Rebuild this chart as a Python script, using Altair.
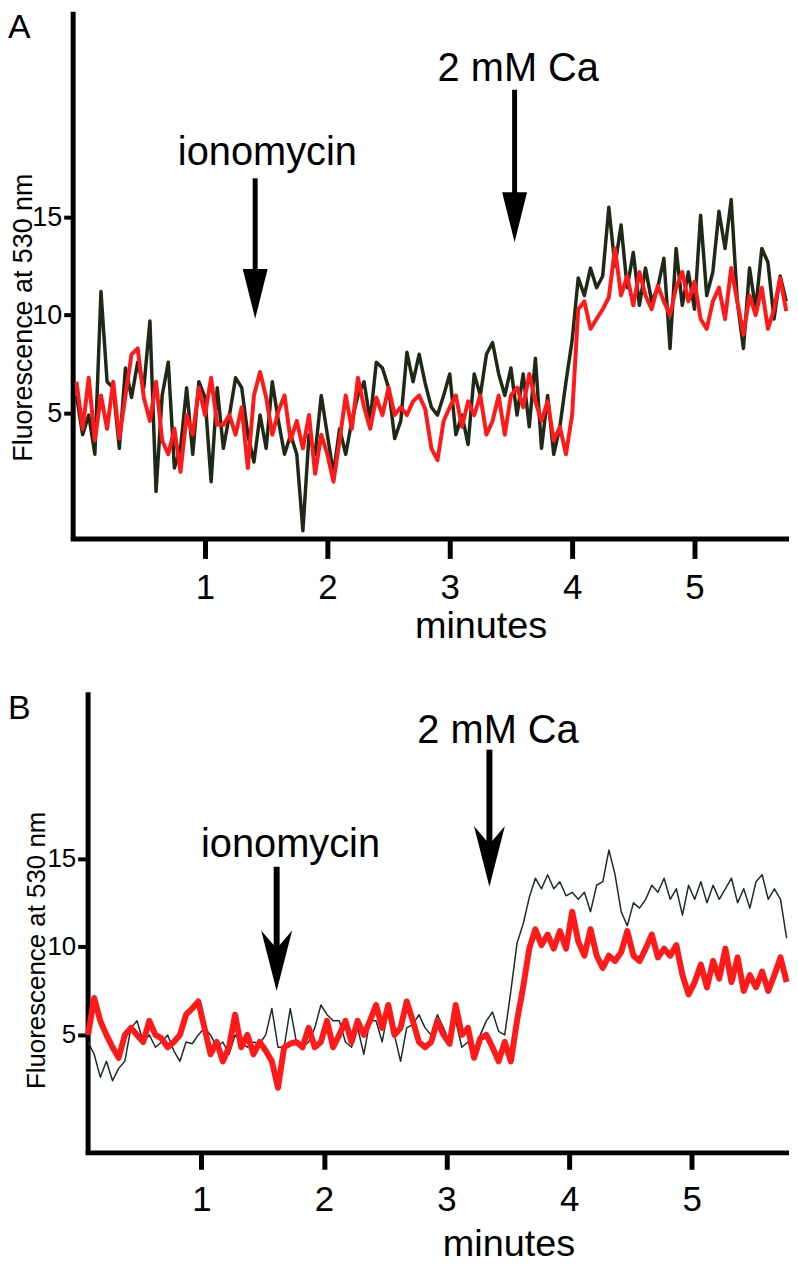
import altair as alt
import pandas as pd

FONT = "Liberation Sans"
RED = "#ff1a1a"

# ---------------- Panel A traces (minutes sampled every 0.05 from -0.05) ----------------
A_T0 = -0.05
A_DT = 0.05
a_red = [
    6.6, 4.2, 6.8, 3.6, 5.9, 4.2, 6.6, 3.7, 5.9, 8.0,
    8.3, 5.8, 4.6, 6.6, 3.6, 2.9, 4.2, 2.0, 4.9, 3.9,
    6.3, 4.9, 6.8, 4.4, 4.4, 4.9, 3.9, 5.3, 2.2, 5.9,
    7.1, 5.8, 3.9, 5.1, 5.9, 3.6, 4.6, 3.2, 4.9, 1.9,
    3.9, 2.9, 1.5, 3.6, 5.9, 4.2, 6.8, 5.3, 4.2, 5.8,
    4.9, 6.3, 4.9, 5.3, 4.9, 5.6, 5.9, 5.2,
    3.2, 2.6, 4.6, 5.3, 5.9, 4.3, 5.6, 4.9, 5.9, 3.9,
    4.6, 5.9, 3.9, 5.9, 6.3, 5.3, 7.0, 5.6, 4.6, 5.6,
    3.6, 4.3, 2.9, 4.9,
    10.3, 10.7, 9.3, 9.8, 10.3, 10.9, 13.4, 11.0, 12.0, 10.5,
    12.2, 11.0, 10.3, 11.5, 10.7, 10.0, 11.4, 12.2, 10.7, 11.7,
    9.8, 9.3, 10.7, 11.4, 9.8, 12.4, 10.7, 9.0, 11.0, 10.0,
    11.4, 9.3, 10.3, 11.9, 10.2,
]
a_black = [
    5.9, 3.9, 4.9, 2.9, 11.2, 6.6, 6.3, 3.2, 7.3, 5.8,
    7.6, 6.3, 9.7, 1.0, 5.9, 7.6, 2.2, 3.2, 6.3, 2.9,
    6.6, 5.8, 1.5, 6.3, 3.2, 4.9, 6.8, 6.3, 3.9, 2.5,
    4.9, 3.2, 6.6, 4.6, 2.9, 3.9, 2.9, -1.0, 3.9, 2.9,
    5.9, 3.9, 1.9, 4.2, 2.9, 4.6, 5.9, 6.6, 4.6, 7.6,
    7.3, 6.3, 3.7, 4.6, 8.1, 6.6, 8.0, 6.5,
    5.3, 4.9, 5.9, 7.0, 3.9, 4.9, 3.4, 7.0, 5.9, 8.0,
    8.6, 7.0, 5.9, 7.3, 4.9, 7.0, 4.3, 7.8, 3.2, 5.9,
    2.9, 4.3, 6.6, 8.7,
    11.9, 11.0, 12.4, 11.4, 12.0, 15.5, 12.5, 14.6, 11.4, 13.2,
    10.5, 12.4, 10.7, 11.4, 12.9, 8.3, 13.4, 10.5, 12.2, 10.3,
    15.1, 11.0, 12.2, 15.3, 13.4, 15.9, 10.7, 8.3, 12.4, 10.3,
    13.4, 12.7, 9.8, 12.0, 10.7,
]

# ---------------- Panel B traces (minutes sampled every 0.05 from 0.075) ----------------
B_T0 = 0.075
B_DT = 0.05
b_red = [
    5.0, 7.1, 5.8, 5.0, 4.3, 3.7, 5.0, 5.4, 5.0, 4.6,
    5.8, 5.0, 4.8, 4.3, 4.6, 5.0, 6.15, 6.5, 6.9, 5.4,
    3.9, 4.6, 3.5, 4.3, 6.15, 4.3, 5.0, 3.9, 4.6, 4.1,
    3.5, 2.0, 4.3, 4.5, 4.6, 4.3, 5.4, 4.3, 4.6, 5.8,
    4.3, 5.0, 5.8, 4.6, 5.8, 5.0, 5.8, 6.7, 5.4, 6.7,
    5.0, 5.4, 6.9, 5.8, 4.6, 4.3,
    4.6, 5.8, 5.0, 4.5, 6.7, 5.0, 5.4, 3.7, 4.8, 5.0,
    4.3, 3.5, 4.6, 3.5, 5.8, 7.7, 9.9, 11.0, 10.1, 10.7,
    9.9, 10.9, 9.9, 12.0, 10.3, 9.5, 11.0, 9.5, 8.8, 9.5,
    9.2, 9.7, 10.9, 9.5, 9.2, 9.9, 10.7, 9.4, 9.9, 9.5,
    10.1, 8.4, 7.3, 8.0, 9.0, 7.7, 9.2, 8.2, 9.9, 8.0,
    9.4, 7.5, 8.4, 7.7, 8.6, 7.5, 8.4, 9.4, 8.0,
]
b_black = [
    4.6, 3.9, 2.6, 3.5, 2.4, 3.1, 3.5, 5.4, 5.8, 4.6,
    5.0, 4.3, 4.6, 5.0, 4.1, 3.5, 4.6, 4.5, 5.0, 5.4,
    5.0, 4.3, 4.6, 3.9, 5.0, 4.6, 4.3, 4.6, 4.5, 5.0,
    6.5, 4.3, 4.3, 6.5, 4.6, 4.3, 4.6, 5.4, 6.7, 6.15,
    5.8, 5.8, 4.6, 4.3, 5.4, 3.9, 5.8, 5.8, 4.6, 6.5,
    5.0, 3.5, 5.4, 5.6, 6.15, 5.4,
    5.0, 6.15, 5.4, 4.6, 5.8, 4.3, 4.6, 3.9, 5.0, 5.8,
    6.3, 5.2, 5.0, 7.5, 10.2, 11.3, 12.8, 13.9, 13.3, 14.1,
    13.3, 13.7, 12.9, 13.1, 12.7, 13.1, 12.0, 13.5, 13.7, 15.5,
    14.1, 12.0, 11.2, 12.5, 12.2, 12.7, 13.5, 13.1, 13.9, 12.7,
    13.3, 11.8, 13.5, 12.7, 13.7, 12.5, 13.5, 12.7, 13.3, 13.9,
    12.5, 13.3, 12.2, 13.7, 14.1, 12.7, 13.3, 12.7, 10.5,
]

# ---------------- Annotations (arrows and labels) ----------------
ev_label = ["ionomycin", "2 mM Ca"]
a_ev_t = [1.41, 3.53]
a_ev_top = [16.98, 21.5]
a_ev_end = [11.09, 15.0]
a_ev_tip = [9.82, 13.73]
a_txt_t = [1.51, 3.56]
a_txt_y = [17.64, 21.95]

b_ev_t = [1.614, 3.35]
b_ev_top = [14.55, 21.2]
b_ev_end = [9.18, 15.11]
b_ev_tip = [7.49, 13.42]
b_txt_t = [1.727, 3.42]
b_txt_y = [15.1, 21.6]

x_ticks = [1, 2, 3, 4, 5]
y_ticks = [5, 10, 15]


def trace_df(t0, dt, vals):
    return pd.DataFrame({"t": [round(t0 + dt * i, 4) for i in range(len(vals))], "v": vals})


def ev_df(t, top, end, tip, tx, ty):
    return pd.DataFrame({"label": ev_label, "t": t, "top": top, "end": end,
                         "tip": tip, "tx": tx, "ty": ty})


def x_axis(title_x, title_y, tick_size, label_pad):
    return alt.Axis(values=x_ticks, format="d", title="minutes", grid=False,
                    domainColor="black", domainWidth=5, domainCap="square",
                    tickColor="black", tickWidth=5, tickSize=tick_size,
                    labelFont=FONT, labelFontSize=35, labelColor="black",
                    labelPadding=label_pad, labelFlush=False,
                    titleFont=FONT, titleFontSize=38, titleFontWeight="normal",
                    titleColor="black", titleX=title_x, titleY=title_y,
                    titleBaseline="alphabetic", titleAlign="center")


def y_axis(offset, tick_size, label_pad, label_size, title_size, title_x, title_y):
    return alt.Axis(values=y_ticks, format="d", title="Fluorescence at 530 nm",
                    grid=False, offset=offset,
                    domainColor="black", domainWidth=5,
                    tickColor="black", tickWidth=4, tickSize=tick_size,
                    labelFont=FONT, labelFontSize=label_size, labelColor="black",
                    labelPadding=label_pad,
                    titleFont=FONT, titleFontSize=title_size, titleFontWeight="normal",
                    titleColor="black", titleAngle=270, titleBaseline="bottom",
                    titleX=title_x, titleY=title_y, titleAlign="center")


def panel(letter, red, black, t0, dt, ev, xscale, yscale, xaxis, yaxis, height,
          red_w, black_w, black_col, head_path, head_size, shaft_w):
    def X(f):
        return alt.X(f"{f}:Q", scale=xscale, axis=xaxis)

    def Y(f):
        return alt.Y(f"{f}:Q", scale=yscale, axis=yaxis)

    black_line = alt.Chart(trace_df(t0, dt, black)).mark_line(
        color=black_col, strokeWidth=black_w, strokeJoin="round"
    ).encode(x=X("t"), y=Y("v"))
    red_line = alt.Chart(trace_df(t0, dt, red)).mark_line(
        color=RED, strokeWidth=red_w, strokeJoin="round"
    ).encode(x=X("t"), y=Y("v"))
    shafts = alt.Chart(ev).mark_rule(color="black", strokeWidth=shaft_w).encode(
        x=X("t"), y=Y("top"), y2="end:Q")
    heads = alt.Chart(ev).mark_point(
        shape=head_path, size=head_size, filled=True, color="black",
        opacity=1, strokeWidth=0
    ).encode(x=X("t"), y=Y("tip"))
    labels = alt.Chart(ev).mark_text(
        font=FONT, fontSize=40, align="center", baseline="alphabetic", color="black"
    ).encode(x=X("tx"), y=Y("ty"), text="label:N")
    letter_ch = alt.Chart(pd.DataFrame({"letter": [letter]})).mark_text(
        font=FONT, fontSize=34, align="left", baseline="top", color="black"
    ).encode(x=alt.value(-65), y=alt.value(0), text="letter:N")
    return alt.layer(black_line, red_line, shafts, heads, labels, letter_ch).properties(
        width=717, height=height)


chart_a = panel(
    "A", a_red, a_black, A_T0, A_DT,
    ev_df(a_ev_t, a_ev_top, a_ev_end, a_ev_tip, a_txt_t, a_txt_y),
    alt.Scale(domain=[-0.0813, 5.748], nice=False, zero=False),
    alt.Scale(domain=[-1.40, 25.51], nice=False, zero=False),
    x_axis(410, 100, 20, 12),
    y_axis(0, 9, 2, 27, 27, -35, 307.5),
    530, 4, 3.5, "#1e2a16",
    "M0,0 L-0.5,-2 L0.5,-2 Z", 2500, 5,
)

chart_b = panel(
    "B", b_red, b_black, B_T0, B_DT,
    ev_df(b_ev_t, b_ev_top, b_ev_end, b_ev_tip, b_txt_t, b_txt_y),
    alt.Scale(domain=[0.0714, 5.770], range=[15, 717], nice=False, zero=False),
    alt.Scale(domain=[-1.67, 24.49], nice=False, zero=False),
    x_axis(438, 104, 17, 13),
    y_axis(-15, 10, 2, 26, 26, -38.5, 259.5),
    463, 6, 1.5, "#1c2c2c",
    "M0,0 L-0.51,-2 L0,-1.4 L0.51,-2 Z", 3721, 6,
)

chart = alt.vconcat(
    chart_a, chart_b, spacing=46, padding=0, background="white"
).configure_view(stroke="transparent", strokeWidth=0)

chart.save("out.html", embed_options={"renderer": "svg", "actions": False})
